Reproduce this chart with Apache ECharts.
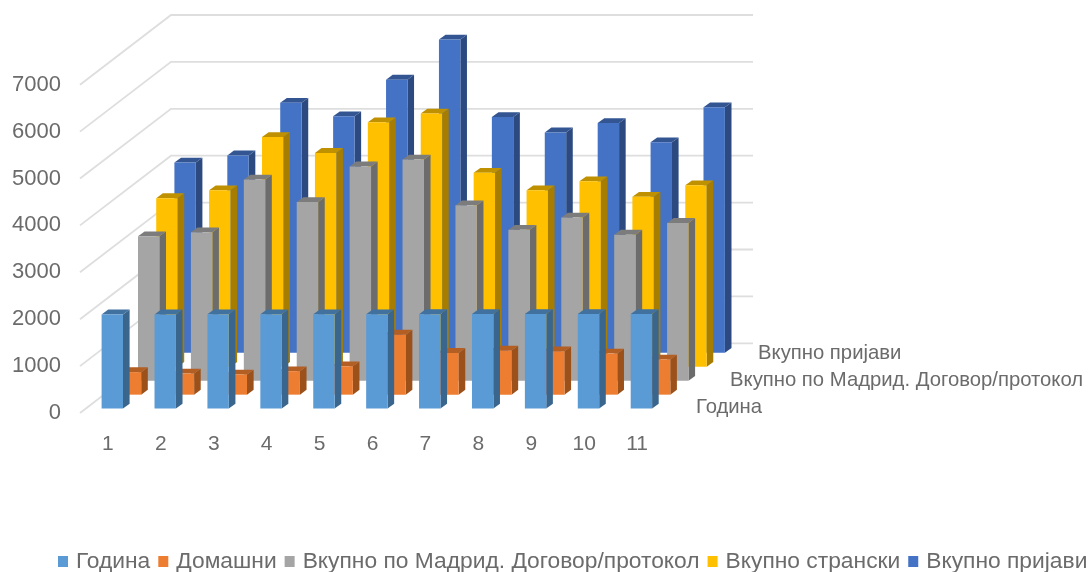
<!DOCTYPE html>
<html>
<head>
<meta charset="utf-8">
<script src="https://cdn.jsdelivr.net/npm/echarts@6/dist/echarts.min.js"></script>
<style>html,body{margin:0;padding:0;background:#fff}#c{width:1088px;height:572px}</style>
</head>
<body>
<div id="c"></div>
<script>
const categories = ['1','2','3','4','5','6','7','8','9','10','11'];
const ticks = [0,1000,2000,3000,4000,5000,6000,7000];
const seriesNames = ['Година','Домашни','Вкупно по Мадрид. Договор/протокол','Вкупно странски','Вкупно пријави'];
const godina = [2008,2009,2010,2011,2012,2013,2014,2015,2016,2017,2018];
const domashni = [480,450,430,500,605,1280,890,940,925,875,750];
const madrid = [3080,3165,4290,3810,4570,4715,3740,3220,3480,3115,3365];
const stranski = [3595,3765,4900,4560,5215,5400,4135,3765,3955,3625,3870];
const vkupno = [4060,4210,5330,5045,5825,6680,5030,4700,4900,4490,5235];
const depthLabels = ['Година','Вкупно по Мадрид. Договор/протокол','Вкупно пријави'];

const palettes = [
  {front:'#5B9BD5', side:'#3A658C', top:'#41729F'},
  {front:'#ED7D31', side:'#9B5119', top:'#B35E22'},
  {front:'#A5A5A5', side:'#6C6C6C', top:'#7C7C7C'},
  {front:'#FFC000', side:'#A67D00', top:'#BF9000'},
  {front:'#4472C4', side:'#2C4A80', top:'#335693'}
];
const rowDX = 18.2, rowDY = -13.94, barW = 21.4, sideDX = 6.6, sideDY = -4.8, startDX = 5.85, startDY = -4.4;
const wallDX = 91, wallDY = -69.7;
const textColor = '#6b6b6b';
const FONT = '"Liberation Sans", sans-serif';

function barRenderer(row) {
  const p = palettes[row];
  return function (params, api) {
    const i = api.value(0), v = api.value(1);
    const b = api.coord([i, 0]), t = api.coord([i, v]);
    const xl = b[0] + startDX - barW / 2 + row * rowDX;
    const xr = xl + barW;
    const yb = b[1] + startDY + row * rowDY;
    const yt = t[1] + startDY + row * rowDY;
    return {type:'group', children:[
      {type:'polygon', shape:{points:[[xr,yb],[xr+sideDX,yb+sideDY],[xr+sideDX,yt+sideDY],[xr,yt]]}, style:{fill:p.side}},
      {type:'polygon', shape:{points:[[xl,yt],[xr,yt],[xr+sideDX,yt+sideDY],[xl+sideDX,yt+sideDY]]}, style:{fill:p.top}},
      {type:'rect', shape:{x:xl,y:yt,width:barW,height:yb-yt}, style:{fill:p.front}}
    ]};
  };
}
function wallRenderer(params, api) {
  const y = api.coord([0, api.value(1)])[1];
  const cs = params.coordSys;
  return {type:'polyline', shape:{points:[[cs.x,y],[cs.x+wallDX,y+wallDY],[cs.x+cs.width+wallDX,y+wallDY]]},
    style:{stroke:'#dedede', lineWidth:1.8, fill:null}};
}
const rows = [godina, domashni, madrid, stranski, vkupno];
const barSeries = rows.map((vals,row)=>({
  type:'custom', name:seriesNames[row], coordinateSystem:'cartesian2d',
  renderItem:barRenderer(row), clip:false, z:10+(4-row),
  itemStyle:{color:palettes[row].front},
  encode:{x:0,y:1},
  data:vals.map((v,i)=>[i,v])
})).reverse();

const depthPos = [[696,407],[730,380],[758,353]];
const chart = echarts.init(document.getElementById('c'), null, {renderer:'canvas'});
chart.setOption({
  animation:false,
  backgroundColor:'#fff',
  textStyle:{fontFamily:FONT},
  grid:{left:80,right:426,top:84.7,bottom:159,containLabel:false},
  xAxis:{type:'category',data:categories,axisLine:{show:false},axisTick:{show:false},
    axisLabel:{color:textColor,fontSize:21,fontFamily:FONT,margin:21,padding:[0,0,0,3]}},
  yAxis:{type:'value',min:0,max:7000,interval:1000,axisLine:{show:false},axisTick:{show:false},splitLine:{show:false},
    axisLabel:{color:textColor,fontSize:22,fontFamily:FONT,margin:19,formatter:v=>String(v)}},
  legend:{data:seriesNames,left:58,top:550,width:1030,itemWidth:10,itemHeight:11,itemGap:8,icon:'rect',padding:0,
    textStyle:{color:textColor,fontSize:22.8,fontFamily:FONT,padding:[0,0,0,3]}},
  graphic:depthLabels.map((t,k)=>({type:'text',left:depthPos[k][0],top:depthPos[k][1]-10,z:20,
    style:{text:t,fill:textColor,font:'20.3px '+FONT}})),
  series:[{type:'custom',name:'walls',coordinateSystem:'cartesian2d',renderItem:wallRenderer,clip:false,z:1,silent:true,
    encode:{x:0,y:1},data:ticks.map(v=>[0,v])}].concat(barSeries)
});
</script>
</body>
</html>
